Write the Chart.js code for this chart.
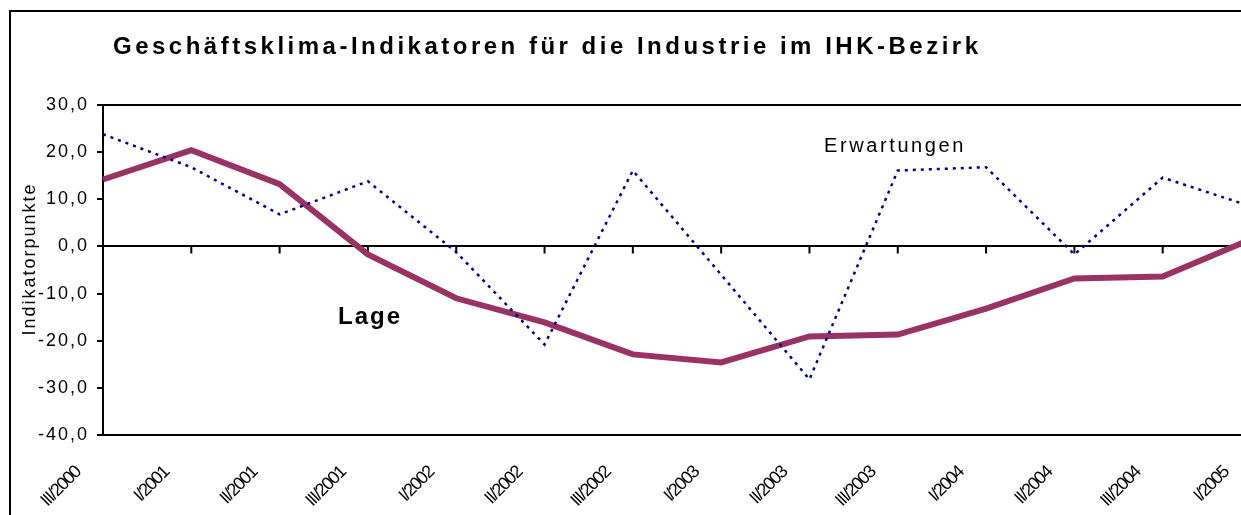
<!DOCTYPE html>
<html>
<head>
<meta charset="utf-8">
<script src="https://cdn.jsdelivr.net/npm/chart.js@4.4.1/dist/chart.umd.min.js"></script>
<style>
  body { margin: 0; background: #fff; overflow: hidden; }
  #rahmen { position: absolute; left: 9px; top: 10px; width: 1300px; height: 600px; border: 2px solid #000; }
  #grafik { position: absolute; left: 0; top: 0; }
</style>
</head>
<body>
<div id="rahmen"><canvas id="grafik" width="1270" height="520"></canvas></div>
<script>
// Quartale (x-Achse)
const quartale = ["III/2000", "I/2001", "II/2001", "III/2001", "I/2002", "II/2002", "III/2002",
    "I/2003", "II/2003", "III/2003", "I/2004", "II/2004", "III/2004", "I/2005"];

// Indikatorpunkte
const lage = [14.2, 20.4, 13.2, -1.7, -11.0, -16.1, -22.9, -24.6, -19.1, -18.7, -13.2, -6.8, -6.4, 1.5];
const erwartungen = [23.8, 16.8, 6.8, 13.8, -1.2, -20.8, 16.1, -6.0, -28.2, 16.1, 16.8, -1.7, 14.6, 8.5];

// y-Achse
const y_min = -40;
const y_max = 30;
const y_schritt = 10;

const titel = "Geschäftsklima-Indikatoren für die Industrie im IHK-Bezirk";
const achsen_titel = "Indikatorpunkte";

const schrift = '"Liberation Sans", Arial, sans-serif';

// Rahmen, Nulllinien-Striche und Texte
const beschriftung = {
    id: "beschriftung",
    beforeDraw(chart) {
        chart.ctx.letterSpacing = "2px"; // y-Achse
    },
    beforeDatasetsDraw(chart) {
        const ctx = chart.ctx;
        const a = chart.chartArea;
        const x = chart.scales.x;
        const y0 = chart.scales.y.getPixelForValue(0);
        ctx.save();
        ctx.strokeStyle = "#000";
        ctx.lineWidth = 2;
        ctx.strokeRect(a.left, a.top, a.right - a.left, a.bottom - a.top);
        ctx.beginPath();
        quartale.forEach((q, i) => {
            if (i === 0) return;
            const px = x.getPixelForValue(i);
            ctx.moveTo(px, y0);
            ctx.lineTo(px, y0 + 7);
        });
        ctx.stroke();
        ctx.restore();
    },
    afterDatasetsDraw(chart) {
        chart.ctx.letterSpacing = "-1.5px"; // x-Beschriftung (ticks.z: 1), eng
    },
    afterDraw(chart) {
        const ctx = chart.ctx;
        ctx.save();
        ctx.fillStyle = "#000";
        ctx.textBaseline = "alphabetic";
        ctx.textAlign = "left";

        ctx.font = "bold 24px " + schrift;
        ctx.letterSpacing = "3.5px";
        ctx.fillText(titel, 102, 42);

        ctx.font = "20px " + schrift;
        ctx.letterSpacing = "2.6px";
        ctx.fillText("Erwartungen", 813, 140);

        ctx.font = "bold 24px " + schrift;
        ctx.letterSpacing = "2px";
        ctx.fillText("Lage", 327, 312);

        ctx.font = "18px " + schrift;
        ctx.letterSpacing = "2px";
        ctx.translate(19, 247);
        ctx.rotate(-Math.PI / 2);
        ctx.textAlign = "center";
        ctx.textBaseline = "middle";
        ctx.fillText(achsen_titel, 0, 0);
        ctx.restore();
    },
};

new Chart("grafik", {
    type: "line",
    data: {
        labels: quartale,
        datasets: [
            {
                label: "Erwartungen",
                data: erwartungen,
                borderColor: "#000080",
                borderWidth: 2.5,
                borderDash: [3, 5],
                pointRadius: 0,
                tension: 0,
                order: 0,
            },
            {
                label: "Lage",
                data: lage,
                borderColor: "#993366",
                borderWidth: 6,
                pointRadius: 0,
                tension: 0,
                order: 1,
            },
        ],
    },
    options: {
        responsive: false,
        animation: false,
        devicePixelRatio: 1,
        layout: {
            padding: { left: 0, top: 93, right: 30, bottom: 0 },
        },
        plugins: {
            legend: { display: false },
            tooltip: { enabled: false },
        },
        scales: {
            x: {
                offset: false,
                grid: { display: false, drawTicks: false },
                border: { display: false },
                ticks: {
                    z: 1,
                    autoSkip: false,
                    minRotation: 45,
                    maxRotation: 45,
                    labelOffset: -25,
                    padding: 27,
                    color: "#000",
                    font: { family: schrift, size: 18 },
                },
                afterFit: (scale) => {
                    scale.height = 97;
                    scale.paddingLeft = 0;
                    scale.paddingRight = 0;
                },
            },
            y: {
                min: y_min,
                max: y_max,
                border: { display: false },
                grid: {
                    color: (ctx) => (ctx.tick && ctx.tick.value === 0 ? "#000" : "rgba(0,0,0,0)"),
                    lineWidth: 2,
                    tickColor: "#000",
                    tickLength: 6,
                    tickWidth: 2,
                },
                ticks: {
                    stepSize: y_schritt,
                    padding: 8,
                    color: "#000",
                    font: { family: schrift, size: 18 },
                    callback: (value) => value.toFixed(1).replace(".", ","),
                },
                afterFit: (scale) => {
                    scale.width = 92;
                },
            },
        },
    },
    plugins: [beschriftung],
});
</script>
</body>
</html>
